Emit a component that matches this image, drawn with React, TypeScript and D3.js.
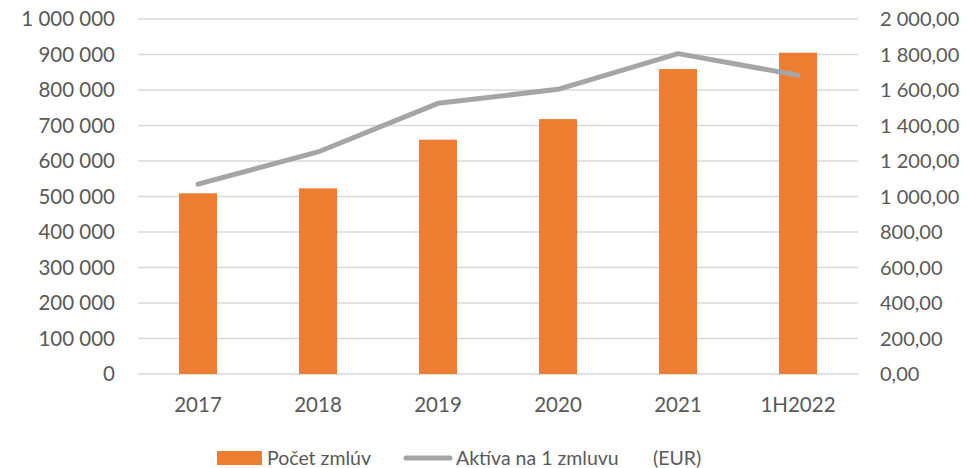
import React from "react";
import * as d3 from "d3";

const categories = ["2017", "2018", "2019", "2020", "2021", "1H2022"];
const contracts = [509000, 523000, 660000, 718000, 859000, 905000];
const assetsPerContract = [1070, 1251, 1525, 1604, 1805, 1683];
const leftTicks = [0, 100000, 200000, 300000, 400000, 500000, 600000, 700000, 800000, 900000, 1000000];
const rightTicks = [0, 200, 400, 600, 800, 1000, 1200, 1400, 1600, 1800, 2000];

const W = 968, H = 468;
const left = 138, right = 858, top = 19, bottom = 374;
const font = "Lato, 'Noto Sans', sans-serif";
const textColor = "#595959";

function fmtSpace(v: number, dec: number) {
  const s = v.toFixed(dec);
  const [i, d] = s.split(".");
  const grouped = i.replace(/\B(?=(\d{3})+(?!\d))/g, " ");
  return d ? grouped + "," + d : grouped;
}

export default function App() {
  const x = d3.scaleBand<string>().domain(categories).range([left, right]).paddingInner(0.683).paddingOuter(0.3415);
  const yL = d3.scaleLinear().domain([0, 1000000]).range([bottom, top]);
  const yR = d3.scaleLinear().domain([0, 2000]).range([bottom, top]);
  const line = d3
    .line<number>()
    .x((_, i) => (x(categories[i]) as number) + x.bandwidth() / 2)
    .y((d) => yR(d));

  return (
    <svg width={W} height={H} style={{ position: "absolute", left: 0, top: 0, background: "#fff" }}>
      <g>
        {leftTicks.map((t) => (
          <line key={t} x1={left} x2={right} y1={yL(t)} y2={yL(t)} stroke="#d9d9d9" strokeWidth={1.3} />
        ))}
      </g>
      <g fontFamily={font} fill={textColor}>
        {leftTicks.map((t) => (
          <text key={t} x={115} y={yL(t)} dy="0.36em" textAnchor="end" fontSize={20.5} style={{ whiteSpace: "pre" }}>
            {fmtSpace(t, 0)}
          </text>
        ))}
        {rightTicks.map((t) => (
          <text key={t} x={880} y={yR(t)} dy="0.36em" textAnchor="start" fontSize={20} style={{ whiteSpace: "pre" }}>
            {fmtSpace(t, 2)}
          </text>
        ))}
        {categories.map((c) => (
          <text key={c} x={(x(c) as number) + x.bandwidth() / 2} y={405} dy="0.36em" textAnchor="middle" fontSize={20.5}>
            {c}
          </text>
        ))}
      </g>
      <g>
        {categories.map((c, i) => (
          <rect key={c} x={x(c)} y={yL(contracts[i])} width={x.bandwidth()} height={bottom - yL(contracts[i])} fill="#ed7d31" />
        ))}
      </g>
      <path d={line(assetsPerContract) || ""} fill="none" stroke="#a5a5a5" strokeWidth={5} strokeLinecap="round" strokeLinejoin="round" />
      <g fontFamily={font} fontSize={19.5} fill={textColor}>
        <rect x={217} y={451} width={45} height={14} fill="#ed7d31" />
        <text x={267} y={458} dy="0.36em">Počet zmlúv</text>
        <line x1={406} x2={450} y1={458} y2={458} stroke="#a5a5a5" strokeWidth={5} strokeLinecap="round" />
        <text x={456} y={458} dy="0.36em">Aktíva na 1 zmluvu</text>
        <text x={653} y={458} dy="0.36em">(EUR)</text>
      </g>
    </svg>
  );
}
